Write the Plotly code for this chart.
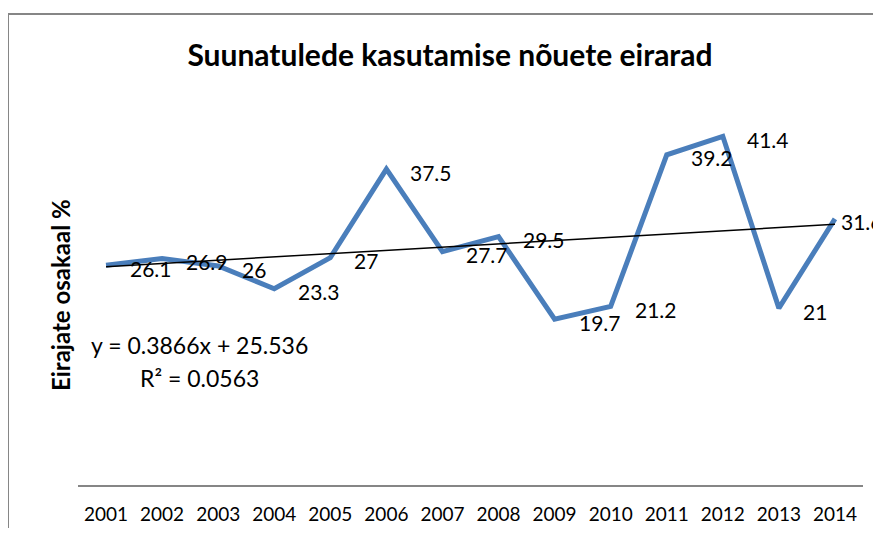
import numpy as np
import plotly.graph_objects as go

years = ["2001", "2002", "2003", "2004", "2005", "2006", "2007",
         "2008", "2009", "2010", "2011", "2012", "2013", "2014"]
values = [26.1, 26.9, 26, 23.3, 27, 37.5, 27.7, 29.5, 19.7, 21.2, 39.2, 41.4, 21, 31.6]
value_labels = ["26.1", "26.9", "26", "23.3", "27", "37.5", "27.7",
                "29.5", "19.7", "21.2", "39.2", "41.4", "21", "31.6"]
title_text = "Suunatulede kasutamise nõuete eirarad"
y_title = "Eirajate osakaal %"

OX, OY = 8, 8  # page offset (body margin)
W, H = 881 - OX, 536 - 2 * OY
# target pixel positions in the screenshot
PL, PR, PT, PB = 78, 863, 106, 485
L = PL - OX
R = W - (PR - OX)
T = PT - OY
B = H - (PB - OY)
pw, ph = W - L - R, H - T - B

def px_x(x):
    return (x - OX - L) / pw

def px_y(y):
    return (H - B - (y - OY)) / ph

xi = np.arange(1, len(values) + 1)
slope, intercept = np.polyfit(xi, values, 1)
fit = slope * xi + intercept
ss_res = np.sum((np.array(values) - fit) ** 2)
ss_tot = np.sum((np.array(values) - np.mean(values)) ** 2)
r2 = 1 - ss_res / ss_tot

FONT = "Lato"
fig = go.Figure()
fig.add_trace(go.Scatter(x=years, y=values, mode="lines",
                         line=dict(color="#4A7EBB", width=5), hoverinfo="x+y"))
fig.add_trace(go.Scatter(x=years, y=fit, mode="lines",
                         line=dict(color="#000000", width=1.5), hoverinfo="skip"))

annotations = []
for i, (v, lab) in enumerate(zip(values, value_labels)):
    annotations.append(dict(x=i, y=v, xref="x", yref="y", text=lab, showarrow=False,
                            xanchor="left", yanchor="middle",
                            xshift=(4 if i == len(values) - 1 else 22), yshift=-3,
                            font=dict(family=FONT, size=21, color="#000000")))
annotations.append(dict(x=px_x(199), y=px_y(345), xref="paper", yref="paper",
                        text=f"y = {slope:.4f}x + {intercept:.3f}", showarrow=False,
                        xanchor="center", yanchor="middle",
                        font=dict(family=FONT, size=23, color="#000000")))
annotations.append(dict(x=px_x(199), y=px_y(378), xref="paper", yref="paper",
                        text=f"R² = {r2:.4f}", showarrow=False,
                        xanchor="center", yanchor="middle",
                        font=dict(family=FONT, size=23, color="#000000")))
annotations.append(dict(x=px_x(60), y=px_y(295), xref="paper", yref="paper",
                        text=f"<b>{y_title}</b>", showarrow=False, textangle=-90,
                        xanchor="center", yanchor="middle",
                        font=dict(family=FONT, size=24, color="#000000")))

fig.update_layout(
    width=W, height=H,
    margin=dict(l=L, r=R, t=T, b=B, autoexpand=False),
    paper_bgcolor="white", plot_bgcolor="white",
    showlegend=False,
    title=dict(text=f"<b>{title_text}</b>", x=(450 - OX) / W, xanchor="center",
               y=1 - (55 - OY) / H, yanchor="middle", yref="container",
               font=dict(family=FONT, size=30, color="#000000")),
    xaxis=dict(type="category", showgrid=False, zeroline=False, automargin=False,
               showline=True, linecolor="#868686", linewidth=2,
               ticks="", ticklabelstandoff=11,
               tickfont=dict(family=FONT, size=19, color="#000000"),
               range=[-0.5, len(years) - 0.5]),
    yaxis=dict(range=[0, 45], showgrid=False, zeroline=False, showline=False,
               automargin=False, showticklabels=False, ticks=""),
    annotations=annotations,
    shapes=[dict(type="rect", xref="paper", yref="paper",
                 x0=px_x(8), y0=px_y(600), x1=px_x(950), y1=px_y(14),
                 line=dict(color="#868686", width=2), fillcolor="rgba(0,0,0,0)",
                 layer="below")],
)

fig.write_html("out.html")
